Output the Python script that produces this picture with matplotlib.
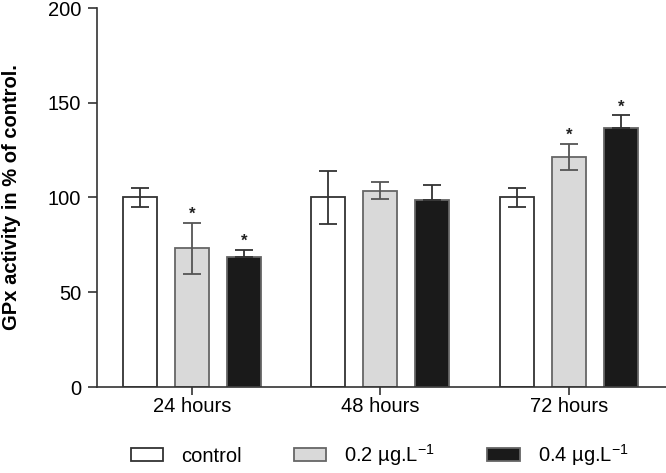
import matplotlib
matplotlib.use("Agg")
import matplotlib.pyplot as plt
import numpy as np

plt.rcParams["font.family"] = ["Liberation Sans", "DejaVu Sans"]
plt.rcParams["mathtext.fontset"] = "custom"
plt.rcParams["mathtext.rm"] = "Liberation Sans"

# data
groups = ["24 hours", "48 hours", "72 hours"]
series = ["control", "0.2 µg.L$^{-1}$", "0.4 µg.L$^{-1}$"]
means = [
    [100, 100, 100],      # control
    [73.2, 103.6, 121.4],  # 0.2
    [68.4, 98.5, 136.5],   # 0.4
]
errs = [
    [5.0, 14.2, 4.8],
    [13.5, 4.6, 7.0],
    [4.0, 8.1, 7.0],
]
# significance markers (* above the bar)
stars = [
    [False, False, False],
    [True, False, True],
    [True, False, True],
]

fills = ["white", "#d9d9d9", "#1a1a1a"]
edges = ["#333333", "#666666", "#666666"]
err_cols = ["#333333", "#555555", "#333333"]

fig = plt.figure(figsize=(6.66, 4.73), dpi=100)
ax = fig.add_axes([97 / 666, 86 / 473, 1 - 97 / 666, 379 / 473])

x = np.arange(len(groups))
step = 0.2756
width = 0.18
for i, name in enumerate(series):
    xs = x + (i - 1) * step
    ax.bar(xs, means[i], width, color=fills[i], edgecolor=edges[i],
           linewidth=1.3, label=name, zorder=2)
    lower = np.zeros(len(groups)) if i == 2 else np.array(errs[i])
    ax.errorbar(xs, means[i], yerr=[lower, errs[i]], fmt="none",
                ecolor=err_cols[i], elinewidth=1.3, capsize=6.5,
                capthick=1.3, zorder=3)
    for j in range(len(groups)):
        if stars[i][j]:
            ax.text(xs[j], means[i][j] + errs[i][j] + 2.0, "*",
                    ha="center", va="baseline", fontsize=12,
                    fontweight="bold", color="#222222")

ax.set_xlim(-0.502, 2.513)
ax.set_ylim(0, 200)
ax.set_yticks([0, 50, 100, 150, 200])
ax.set_xticks(x)
ax.set_xticklabels(groups)
for s in ["top", "right"]:
    ax.spines[s].set_visible(False)
for s in ["left", "bottom"]:
    ax.spines[s].set_linewidth(1.2)
    ax.spines[s].set_color("#333333")
ax.tick_params(axis="y", length=6.5, width=1.2, color="#333333",
               labelsize=14.5, pad=5)
ax.tick_params(axis="x", length=5.5, width=1.2, color="#333333",
               labelsize=14.5, pad=2)

ax.set_ylabel("GPx activity in % of control.", fontsize=14.5, fontweight="bold")
ax.yaxis.set_label_coords(-0.133, 0.5)

fig.legend(loc="center", bbox_to_anchor=(0.570, 0.038), ncol=3,
           frameon=False, fontsize=14.5, handlelength=1.6, handleheight=0.57,
           handletextpad=0.9, columnspacing=2.6)

fig.savefig("out.png", dpi=100)
